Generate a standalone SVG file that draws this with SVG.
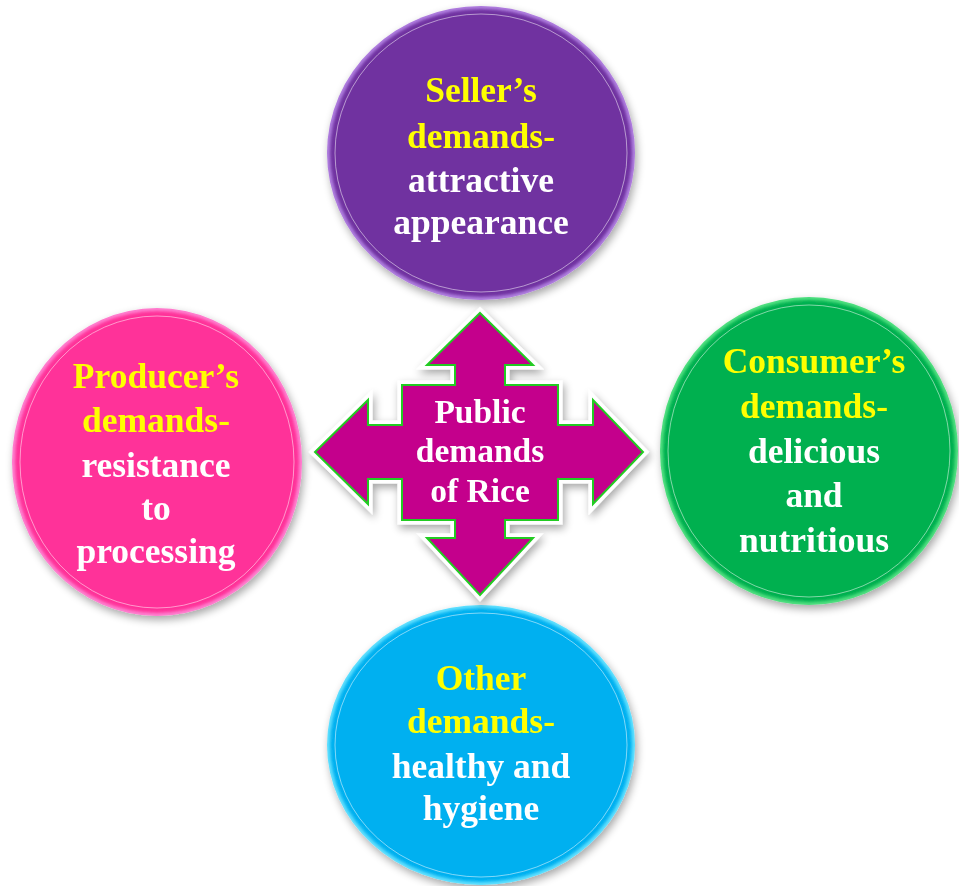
<svg xmlns="http://www.w3.org/2000/svg" width="959" height="886" viewBox="0 0 959 886">
<defs>
<filter id="shadow" x="-20%" y="-20%" width="140%" height="140%">
<feGaussianBlur in="SourceAlpha" stdDeviation="4"/>
<feOffset dx="2" dy="4" result="b"/>
<feComponentTransfer><feFuncA type="linear" slope="0.35"/></feComponentTransfer>
<feMerge><feMergeNode/><feMergeNode in="SourceGraphic"/></feMerge>
</filter>
<filter id="soft" x="-10%" y="-10%" width="120%" height="120%">
<feGaussianBlur stdDeviation="1.5"/>
</filter>
<style>
.t{font-family:"Liberation Serif","Times New Roman",serif;font-weight:bold;font-size:35.5px;text-anchor:middle}
.c{font-size:33.5px}
.y{fill:#FFFF00}
.w{fill:#FFFFFF}
.inner{fill:none;stroke:#FFFFFF;stroke-opacity:0.5;stroke-width:1}
</style>
</defs>

<g id="seller" filter="url(#shadow)">
<ellipse cx="481" cy="153" rx="154" ry="147" fill="#B07FE0"/>
<ellipse cx="481" cy="153" rx="151" ry="144" fill="#7030A0" filter="url(#soft)"/>
<ellipse cx="481" cy="153" rx="146" ry="139" class="inner"/>
<text class="t y" x="481" y="102">Seller’s</text>
<text class="t y" x="481" y="148">demands-</text>
<text class="t w" x="481" y="192">attractive</text>
<text class="t w" x="481" y="234">appearance</text>
</g>

<g id="producer" filter="url(#shadow)">
<ellipse cx="157" cy="462" rx="145" ry="154" fill="#FF80D0"/>
<ellipse cx="157" cy="462" rx="142" ry="151" fill="#FF3399" filter="url(#soft)"/>
<ellipse cx="157" cy="462" rx="137" ry="146" class="inner"/>
<text class="t y" x="156" y="388">Producer’s</text>
<text class="t y" x="156" y="432">demands-</text>
<text class="t w" x="156" y="477">resistance</text>
<text class="t w" x="156" y="520">to</text>
<text class="t w" x="156" y="563">processing</text>
</g>

<g id="consumer" filter="url(#shadow)">
<ellipse cx="809" cy="451" rx="149" ry="154" fill="#50E080"/>
<ellipse cx="809" cy="451" rx="146" ry="151" fill="#00B050" filter="url(#soft)"/>
<ellipse cx="809" cy="451" rx="141" ry="146" class="inner"/>
<text class="t y" x="814" y="373">Consumer’s</text>
<text class="t y" x="814" y="418">demands-</text>
<text class="t w" x="814" y="463">delicious</text>
<text class="t w" x="814" y="507">and</text>
<text class="t w" x="814" y="552">nutritious</text>
</g>

<g id="other" filter="url(#shadow)">
<ellipse cx="481" cy="745" rx="154" ry="140" fill="#60E0FF"/>
<ellipse cx="481" cy="745" rx="151" ry="137" fill="#00B0F0" filter="url(#soft)"/>
<ellipse cx="481" cy="745" rx="146" ry="132" class="inner"/>
<text class="t y" x="481" y="690">Other</text>
<text class="t y" x="481" y="733">demands-</text>
<text class="t w" x="481" y="778">healthy and</text>
<text class="t w" x="481" y="820">hygiene</text>
</g>

<g id="connectors">
<g id="center" filter="url(#shadow)">
<path d="M480,313 L533,365 L505,365 L505,385 L558,385 L558,425 L593,425 L593,400 L643,452 L593,504 L593,479 L558,479 L558,520 L505,520 L505,538 L533,538 L480,595 L427,538 L455,538 L455,520 L402,520 L402,479 L368,479 L368,504 L315,452 L368,400 L368,425 L402,425 L402,385 L455,385 L455,365 L427,365 Z" fill="#C4008C" stroke="#FFFFFF" stroke-width="9" stroke-linejoin="miter"/>
<path d="M480,313 L533,365 L505,365 L505,385 L558,385 L558,425 L593,425 L593,400 L643,452 L593,504 L593,479 L558,479 L558,520 L505,520 L505,538 L533,538 L480,595 L427,538 L455,538 L455,520 L402,520 L402,479 L368,479 L368,504 L315,452 L368,400 L368,425 L402,425 L402,385 L455,385 L455,365 L427,365 Z" fill="#C4008C" stroke="#22CC22" stroke-width="2"/>
<text class="t c w" x="480" y="423">Public</text>
<text class="t c w" x="480" y="462">demands</text>
<text class="t c w" x="480" y="502">of Rice</text>
</g>
</g>
</svg>
